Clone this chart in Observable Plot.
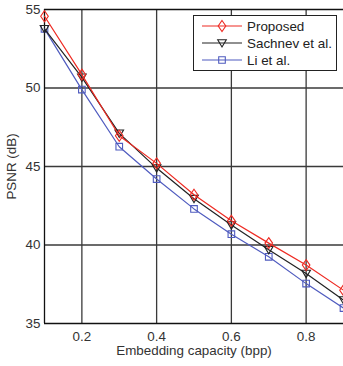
<!DOCTYPE html>
<html>
<head>
<meta charset="utf-8">
<script src="https://cdn.jsdelivr.net/npm/d3@7"></script>
<script src="https://cdn.jsdelivr.net/npm/@observablehq/plot@0.6"></script>
<style>
  html, body { margin: 0; padding: 0; background: #fff; }
  #chart { width: 343px; height: 366px; overflow: hidden; }
</style>
</head>
<body>
<div id="chart"></div>
<script>
const capacity = [0.1, 0.2, 0.3, 0.4, 0.5, 0.6, 0.7, 0.8, 0.9];
const proposed = [54.57, 50.85, 46.96, 45.2, 43.2, 41.54, 40.12, 38.72, 37.12];
const sachnev  = [53.77, 50.68, 47.11, 44.9, 42.95, 41.27, 39.69, 38.18, 36.49];
const li       = [53.77, 49.9, 46.26, 44.2, 42.3, 40.69, 39.25, 37.54, 35.98];
const seriesNames = ["Proposed", "Sachnev et al.", "Li et al."];
const xTicks = [0.2, 0.4, 0.6, 0.8];
const yTicks = [35, 40, 45, 50, 55];

const colors = ["#ee2a22", "#222222", "#4f5bbf"];

const symDiamond = {draw(c) { c.moveTo(0, -5.5); c.lineTo(3.8, 0); c.lineTo(0, 5.5); c.lineTo(-3.8, 0); c.closePath(); }};
const symTriDown = {draw(c) { c.moveTo(-4.3, -3.3); c.lineTo(4.3, -3.3); c.lineTo(0, 4); c.closePath(); }};
const symSquare  = {draw(c) { c.rect(-3.3, -3.3, 6.6, 6.6); }};
const symbols = [symDiamond, symTriDown, symSquare];

const allSeries = [proposed, sachnev, li];
const rows = [];
allSeries.forEach((vals, si) => vals.forEach((v, i) => rows.push({series: seriesNames[si], si, x: capacity[i], y: v})));

const marks = [
  Plot.ruleX(xTicks, {stroke: "#3a3a3a", strokeWidth: 1.3}),
  Plot.ruleY(yTicks.slice(1, -1), {stroke: "#3a3a3a", strokeWidth: 1.3}),
  Plot.ruleX([0.1], {stroke: "#111", strokeWidth: 1.3}),
  Plot.ruleY([35, 55], {stroke: "#111", strokeWidth: 1.3}),
];
[2, 1, 0].forEach(si => {
  const d = rows.filter(r => r.si === si);
  marks.push(Plot.line(d, {x: "x", y: "y", stroke: colors[si], strokeWidth: 1.2}));
  marks.push(Plot.dot(d, {x: "x", y: "y", stroke: colors[si], fill: "none", strokeWidth: 1.1, symbol: () => symbols[si], r: 4}));
});

const chart = Plot.plot({
  width: 343,
  height: 366,
  marginLeft: 44,
  marginTop: 9,
  marginBottom: 43,
  marginRight: 0,
  style: {fontFamily: "'Liberation Sans', Arial, sans-serif", fontSize: "13.4px", color: "#333", background: "#fff", overflow: "visible"},
  x: {domain: [0.1, 0.9], ticks: xTicks, tickFormat: d3.format(".1f"), tickSize: 0, tickPadding: 8, label: "Embedding capacity (bpp)", labelArrow: "none", labelAnchor: "center", labelOffset: 31},
  y: {domain: [35, 55], ticks: yTicks, tickSize: 0, tickPadding: 4, label: "PSNR (dB)", labelArrow: "none", labelAnchor: "center", labelOffset: 38},
  symbol: {type: "identity"},
  marks
});
document.getElementById("chart").appendChild(chart);

// legend
const svg = d3.select(chart);
const lg = svg.append("g").attr("font-family", "'Liberation Sans', Arial, sans-serif").attr("font-size", 13.4).attr("text-anchor", "start");
lg.append("rect").attr("x", 193.5).attr("y", 15.5).attr("width", 143).attr("height", 55).attr("fill", "#fff").attr("stroke", "#222").attr("stroke-width", 1);
const ys = [26, 43, 60];
seriesNames.forEach((name, i) => {
  const y = ys[i];
  lg.append("line").attr("x1", 202).attr("x2", 242).attr("y1", y).attr("y2", y).attr("stroke", colors[i]).attr("stroke-width", 1.2);
  const p = d3.path(); symbols[i].draw(p);
  lg.append("path").attr("d", p.toString()).attr("transform", `translate(222,${y})`).attr("fill", "none").attr("stroke", colors[i]).attr("stroke-width", 1.1);
  lg.append("text").attr("x", 247).attr("y", y).attr("dy", "0.35em").attr("fill", "#222").attr("text-anchor", "start").text(name);
});
</script>
</body>
</html>
